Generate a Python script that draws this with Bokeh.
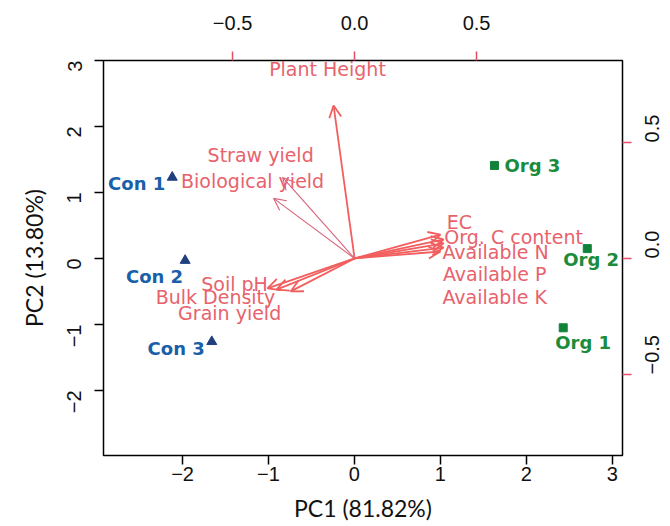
import math
from bokeh.plotting import figure
from bokeh.models import Range1d, LinearAxis, FixedTicker, Arrow, OpenHead
from bokeh.core.properties import value
from bokeh.embed import file_html
from bokeh.resources import INLINE

# ---- observations (PC scores) ----
obs_names = ["Con 1", "Con 2", "Con 3", "Org 1", "Org 2", "Org 3"]
obs_group = ["Con", "Con", "Con", "Org", "Org", "Org"]
pc1_scores = [-2.12, -1.97, -1.66, 2.43, 2.71, 1.63]
pc2_scores = [1.23, -0.03, -1.26, -1.05, 0.15, 1.41]

# ---- variables (loadings, arrow tips) ----
var_names = ["Plant Height", "Straw yield", "Biological yield", "Soil pH",
             "Bulk Density", "Grain yield", "EC", "Org. C content",
             "Available N", "Available P", "Available K"]
load_pc1 = [-0.086, -0.295, -0.332, -0.357, -0.320, -0.262,
            0.352, 0.365, 0.365, 0.365, 0.352]
load_pc2 = [0.659, 0.349, 0.259, -0.129, -0.134, -0.142,
            0.103, 0.082, 0.065, 0.047, 0.030]
# variable label anchor points (loading scale)
lab_pc1 = [-0.111, -0.385, -0.418, -0.492, -0.570, -0.512,
           0.430, 0.652, 0.578, 0.574, 0.574]
lab_pc2 = [0.815, 0.444, 0.332, -0.108, -0.168, -0.237,
           0.155, 0.091, 0.026, -0.069, -0.164]

score_ticks = [-2, -1, 0, 1, 2, 3]
load_ticks = [-0.5, 0.0, 0.5]
x_title = "PC1 (81.82%)"
y_title = "PC2 (13.80%)"

# ---- styles ----
ARROW = "#f25e5e"
ARROW_THIN = "#d9627a"
VARTXT = "#e8626c"
CON_TXT = "#1a5fa8"
CON_MK = "#1f3f7f"
ORG_TXT = "#1a8c3c"
ORG_MK = "#12823a"
RED_TICK = "#e0506a"

p = figure(width=670, height=526,
           x_range=Range1d(-2.92, 3.12), y_range=Range1d(-2.985, 3.0),
           output_backend="svg", toolbar_location=None,
           min_border_left=103, min_border_right=48,
           min_border_top=60, min_border_bottom=71)
p.extra_x_ranges = {"x2": Range1d(-1.029, 1.098)}
p.extra_y_ranges = {"y2": Range1d(-0.849, 0.853)}

p.grid.visible = False
p.outline_line_color = "black"
p.outline_line_width = 1.5
p.background_fill_color = "white"
p.border_fill_color = "white"


def fmt(v, dec):
    s = f"{v:.{dec}f}"
    return s.replace("-", "\u2212")


def style_axis(ax, ticks, dec, tick_color, standoff):
    ax.ticker = FixedTicker(ticks=ticks, minor_ticks=[])
    ax.major_label_overrides = {t: fmt(t, dec) for t in ticks}
    ax.axis_line_color = None
    ax.major_tick_in = 0
    ax.major_tick_out = 9
    ax.major_tick_line_color = tick_color
    ax.major_tick_line_width = 1.5
    ax.minor_tick_line_color = None
    ax.major_label_text_font = "Liberation Sans"
    ax.major_label_text_font_size = "20px"
    ax.major_label_text_color = "#111111"
    ax.major_label_standoff = standoff


xb = p.xaxis[0]
style_axis(xb, score_ticks, 0, "black", 2)
xb.axis_label = x_title
xb.axis_label_text_font = "Lato"
xb.axis_label_text_font_size = "23px"
xb.axis_label_text_font_style = "normal"
xb.axis_label_text_color = "#111111"
xb.axis_label_standoff = 10

yl = p.yaxis[0]
style_axis(yl, score_ticks, 0, "black", 20)
yl.major_label_orientation = math.pi / 2
yl.axis_label = y_title
yl.axis_label_text_font = "Lato"
yl.axis_label_text_font_size = "23px"
yl.axis_label_text_font_style = "normal"
yl.axis_label_text_color = "#111111"
yl.axis_label_standoff = 10

xt = LinearAxis(x_range_name="x2")
style_axis(xt, load_ticks, 1, RED_TICK, 22)
p.add_layout(xt, "above")

yr = LinearAxis(y_range_name="y2")
style_axis(yr, load_ticks, 1, RED_TICK, 21)
yr.major_label_orientation = math.pi / 2
p.add_layout(yr, "right")

# ---- arrows ----
thin = {"Straw yield", "Biological yield"}
for name, lx, ly in zip(var_names, load_pc1, load_pc2):
    c = ARROW_THIN if name in thin else ARROW
    w = 1.1 if name in thin else 1.8
    p.add_layout(Arrow(x_start=0, y_start=0, x_end=lx, y_end=ly,
                       x_range_name="x2", y_range_name="y2",
                       line_color=c, line_width=w,
                       end=OpenHead(size=12, line_color=c, line_width=w)))

p.text(x=lab_pc1, y=lab_pc2, text=var_names,
       x_range_name="x2", y_range_name="y2",
       text_font=value("DejaVu Sans"), text_font_size="19px",
       text_color=VARTXT, text_align="center", text_baseline="middle")

# ---- observation points ----
con_x = [x for x, g in zip(pc1_scores, obs_group) if g == "Con"]
con_y = [y for y, g in zip(pc2_scores, obs_group) if g == "Con"]
org_x = [x for x, g in zip(pc1_scores, obs_group) if g == "Org"]
org_y = [y for y, g in zip(pc2_scores, obs_group) if g == "Org"]
p.scatter(con_x, con_y, marker="triangle", size=10,
          fill_color=CON_MK, line_color=CON_MK)
p.scatter(org_x, org_y, marker="square", size=8,
          fill_color=ORG_MK, line_color=ORG_MK)

# label placement (style): align, x_offset, y_offset in px
lab_style = {
    "Con 1": ("right", -7, 6),
    "Con 2": ("right", -2, 16),
    "Con 3": ("right", -7, 7),
    "Org 1": ("left", -8, 15),
    "Org 2": ("left", -24, 11),
    "Org 3": ("left", 10, 0),
}
for name, g, x, y in zip(obs_names, obs_group, pc1_scores, pc2_scores):
    al, dx, dy = lab_style[name]
    p.text(x=[x], y=[y], text=[name], x_offset=dx, y_offset=dy,
           text_font=value("DejaVu Sans"), text_font_style="bold",
           text_font_size="18px",
           text_color=CON_TXT if g == "Con" else ORG_TXT,
           text_align=al, text_baseline="middle")

open("out.html", "w").write(file_html(p, INLINE))
